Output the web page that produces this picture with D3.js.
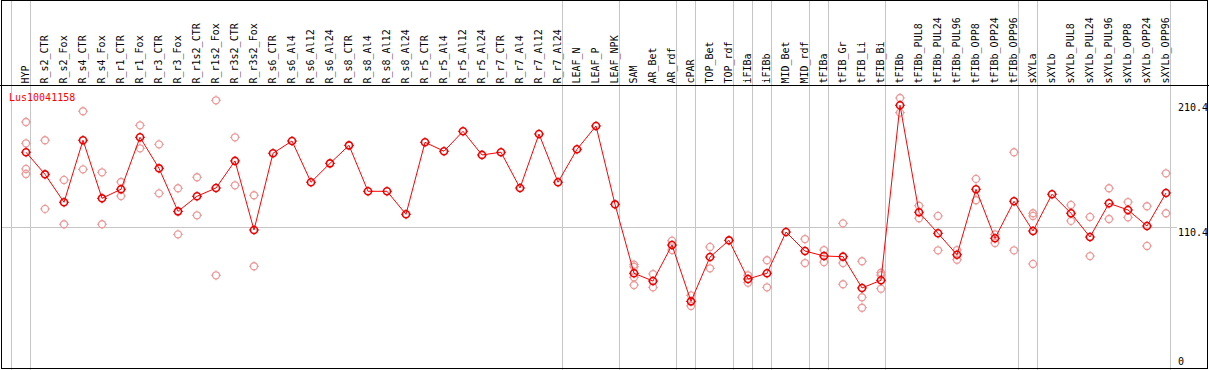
<!DOCTYPE html>
<html>
<head>
<meta charset="utf-8">
<script src="https://cdn.jsdelivr.net/npm/d3@7"></script>
<style>
  html, body { margin: 0; padding: 0; background: #fff; }
  svg { display: block; }
  text { font-family: "DejaVu Sans Mono", monospace; font-size: 10px; }
</style>
</head>
<body>
<svg id="chart" width="1209" height="370"></svg>
<script>
const geneName = "Lus10041158";

const categories = ["HYP","R_s2_CTR","R_s2_Fox","R_s4_CTR","R_s4_Fox","R_r1_CTR","R_r1_Fox","R_r3_CTR","R_r3_Fox","R_r1s2_CTR","R_r1s2_Fox","R_r3s2_CTR","R_r3s2_Fox","R_s6_CTR","R_s6_Al4","R_s6_Al12","R_s6_Al24","R_s8_CTR","R_s8_Al4","R_s8_Al12","R_s8_Al24","R_r5_CTR","R_r5_Al4","R_r5_Al12","R_r5_Al24","R_r7_CTR","R_r7_Al4","R_r7_Al12","R_r7_Al24","LEAF_N","LEAF_P","LEAF_NPK","SAM","AR_Bet","AR_rdf","cPAR","TOP_Bet","TOP_rdf","iFIBa","iFIBb","MID_Bet","MID_rdf","tFIBa","tFIB_Gr","tFIB_Li","tFIB_Bi","tFIBb","tFIBb_PUL8","tFIBb_PUL24","tFIBb_PUL96","tFIBb_OPP8","tFIBb_OPP24","tFIBb_OPP96","sXYLa","sXYLb","sXYLb_PUL8","sXYLb_PUL24","sXYLb_PUL96","sXYLb_OPP8","sXYLb_OPP24","sXYLb_OPP96"];

const means = [169.4,152.1,130.2,178.8,133.3,140.4,181.1,156.8,123.1,134.9,141.4,162.6,108.5,168.6,178.2,145.9,160.7,174.8,138.8,138.8,120.8,177.2,170.2,185.8,167.3,169.4,141.4,183.7,145.9,171.7,190.0,128.6,74.6,68.5,96.7,52.6,87.3,100.4,70.1,74.6,106.9,92.0,88.1,87.6,63.1,69.1,206.2,122.4,105.9,89.1,140.4,102.0,131.0,107.7,136.5,121.6,103.0,129.4,124.2,111.6,137.5];

const replicates = [
  [193.1,176.4,156.3,152.4],[178.8,125.0],[147.7,113.0],[201.5,156.0],[153.7,113.0],
  [146.1,135.1],[190.5,172.5],[175.6,137.2],[141.2,105.1],[149.8,120.0],
  [210.1,73.0],[181.1,143.5],[135.7,80.1],
  [],[],[],[],[],[],[],[],[],[],[],[],[],[],[],[],[],[],[],
  [81.3,79.7,71.4,65.4],[74.0,63.6],[100.1,92.8],[57.3,49.0],[95.2,78.5],[],
  [73.0,67.2],[84.8,63.6],[],[101.4,82.6],[92.8,83.4],[113.7,82.6,66.0],
  [84.0,55.8,47.6],[75.0,73.2,62.5],[211.9,200.4],[127.5,117.7],[119.5,92.6],
  [92.8,85.2],[148.5,131.8],[105.1,98.3],[169.4,92.6],[121.6,119.5,81.9],[],
  [128.1,115.6],[118.7,88.1],[141.2,117.1],[130.4,118.4],[127.1,96.0],[152.9,121.6]
];

const groupEnds = ["HYP","R_r7_Al24","LEAF_NPK","AR_rdf","cPAR","TOP_rdf","iFIBa","iFIBb","MID_rdf","tFIBa","tFIB_Bi","tFIBb_OPP96","sXYLa","sXYLb_OPP96"];

const yTicks = [0, 110.4, 210.4];
const gridTicks = [110.4];

const W = 1209, H = 370;
const svg = d3.select("#chart");

const x = d3.scaleBand().domain(categories).range([11, 11 + categories.length * 19]).paddingInner(0).paddingOuter(0);
const px = c => x(c) + 15;
const y = d3.scaleLinear().domain([0, 210.4]).range([368.5, 99.9]);

const grid = svg.append("g");
// vertical group separators
grid.append("line").attr("x1", x(categories[0]) + 0.5).attr("x2", x(categories[0]) + 0.5)
  .attr("y1", 0).attr("y2", H).attr("stroke", "#c6c6c6");
grid.selectAll("line.sep").data(groupEnds).enter().append("line").attr("class", "sep")
  .attr("x1", d => x(d) + x.bandwidth() + 0.5).attr("x2", d => x(d) + x.bandwidth() + 0.5)
  .attr("y1", 0).attr("y2", H).attr("stroke", "#c6c6c6");
// horizontal grid
grid.selectAll("line.h").data(gridTicks).enter().append("line").attr("class", "h")
  .attr("x1", 1).attr("x2", 1177)
  .attr("y1", d => Math.round(y(d)) - 0.5).attr("y2", d => Math.round(y(d)) - 0.5)
  .attr("stroke", "#c6c6c6");

// frame
svg.append("rect").attr("x", 1.5).attr("y", 0.5).attr("width", W - 2.5 - 0.5).attr("height", 368)
  .attr("fill", "none").attr("stroke", "#000");
svg.append("line").attr("x1", 0).attr("x2", W).attr("y1", 85.5).attr("y2", 85.5).attr("stroke", "#000");

// category labels
svg.append("g").selectAll("text").data(categories).enter().append("text")
  .attr("transform", d => `translate(${px(d) + 2.5},83.5) rotate(-90)`)
  .attr("fill", "#000")
  .text(d => d);

// y labels
svg.append("g").selectAll("text").data(yTicks).enter().append("text")
  .attr("x", 1178)
  .attr("y", d => d === 0 ? y(d) - 3.2 : y(d) + (d > 200 ? 10.8 : 8.4))
  .attr("fill", "#000")
  .text(d => d === 0 ? "0" : d3.format(".1f")(d));

// title
svg.append("text").attr("x", 9).attr("y", 100.5).attr("fill", "#ff0000").text(geneName);

function marker(g, color, sw) {
  g.append("circle").attr("r", 3.5).attr("fill", "none").attr("stroke", color).attr("stroke-width", sw);
  [[0,-1],[0,1],[-1,0],[1,0]].forEach(([dx,dy]) => {
    g.append("line").attr("x1", dx*3.5).attr("y1", dy*3.5).attr("x2", dx*5).attr("y2", dy*5)
      .attr("stroke", color).attr("stroke-width", 1);
  });
}

// replicate points
const repData = [];
categories.forEach((c, i) => replicates[i].forEach(v => repData.push({c, v})));
svg.append("g").selectAll("g").data(repData).enter().append("g")
  .attr("transform", d => `translate(${px(d.c)},${y(d.v)})`)
  .each(function() { marker(d3.select(this), "#ec9a9a", 1.3); });

// mean line
const line = d3.line().x((d, i) => px(categories[i])).y(d => y(d));
svg.append("path").datum(means).attr("d", line).attr("fill", "none").attr("stroke", "#ff0000").attr("stroke-width", 1);

// mean markers
svg.append("g").selectAll("g").data(means).enter().append("g")
  .attr("transform", (d, i) => `translate(${px(categories[i])},${y(d)})`)
  .each(function() { marker(d3.select(this), "#ee0000", 1.6); });
</script>
</body>
</html>
